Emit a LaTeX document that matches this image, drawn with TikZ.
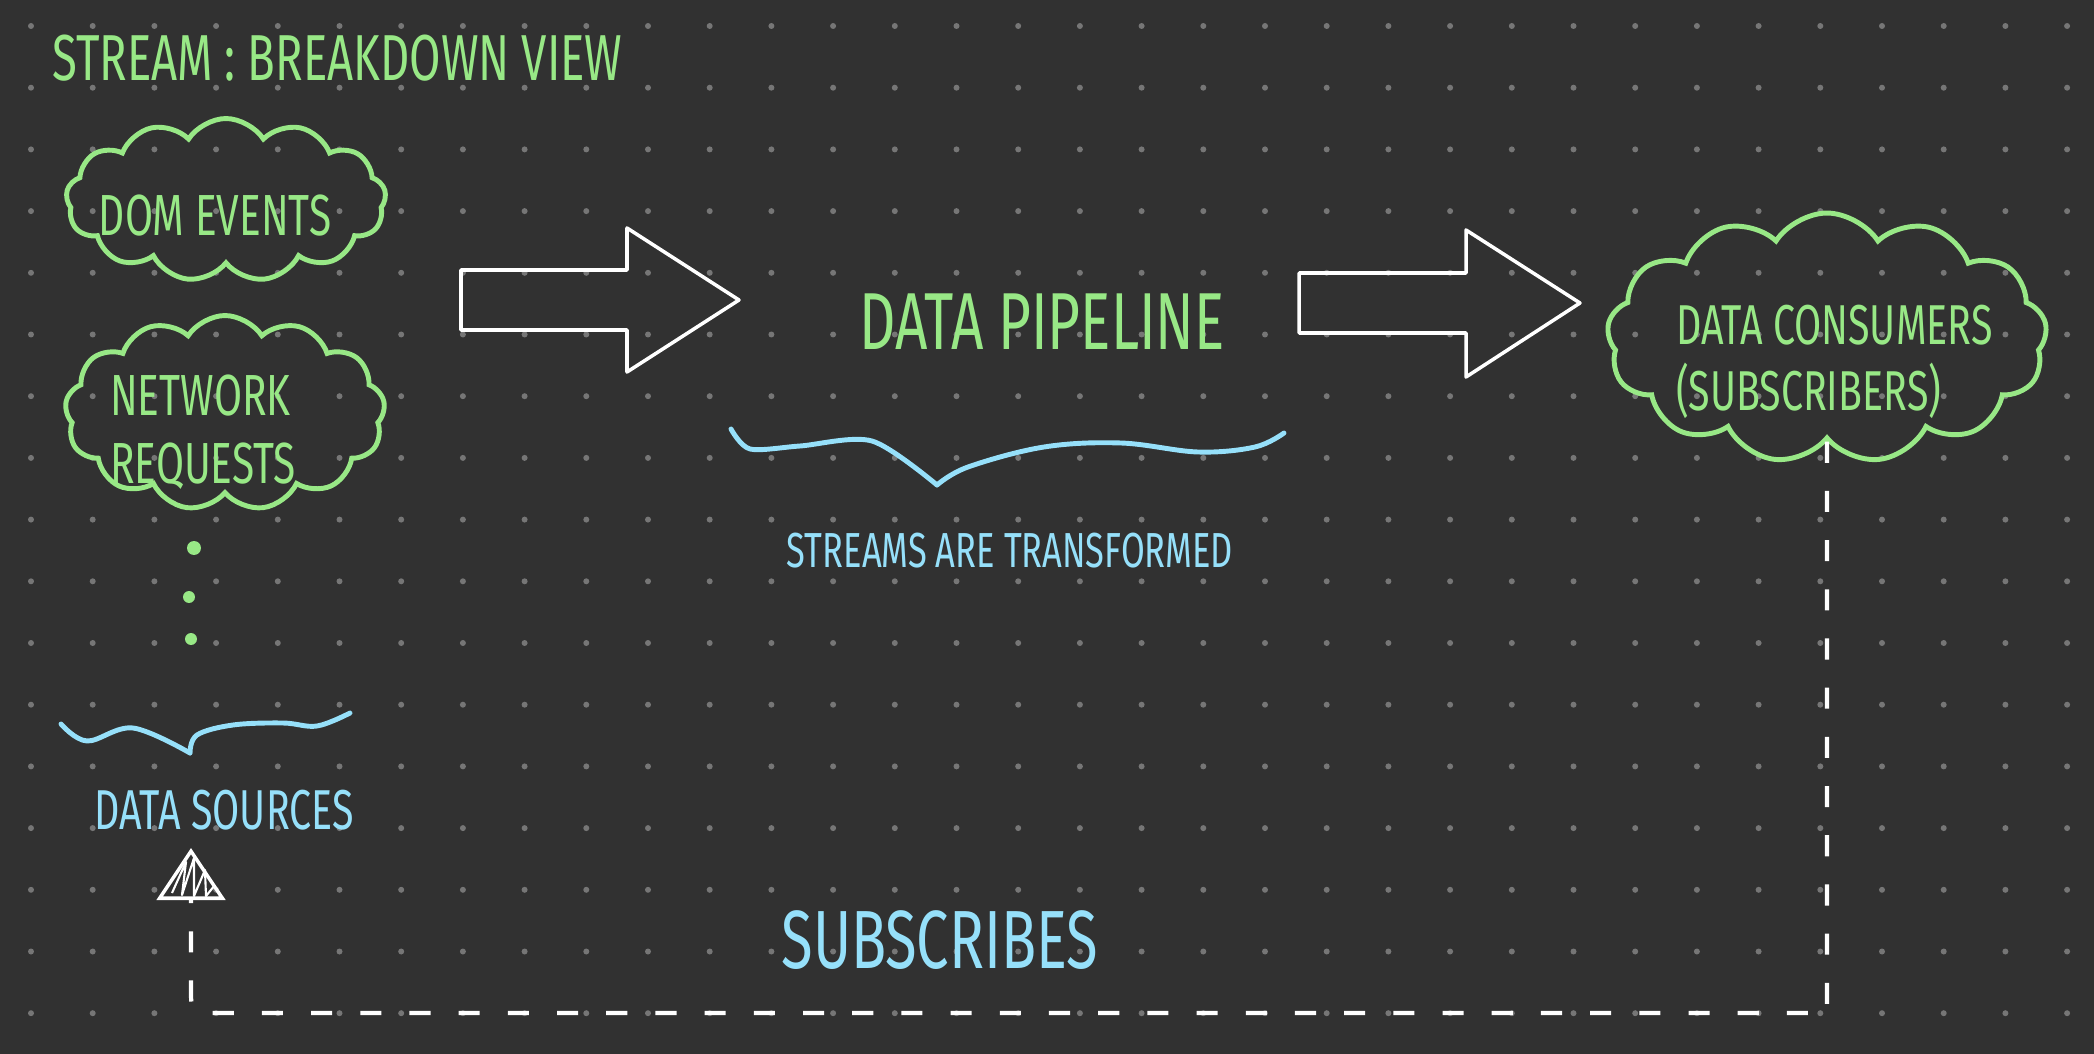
\documentclass[tikz,border=0pt]{standalone}
\usepackage{fontspec}
\newfontfamily\hand[FakeStretch=0.7]{Fira Sans}
\usetikzlibrary{arrows.meta,shapes.symbols}
\definecolor{bgc}{RGB}{49,49,49}
\definecolor{dotc}{RGB}{118,118,118}
\definecolor{chalkgreen}{RGB}{152,232,134}
\definecolor{chalkblue}{RGB}{150,224,250}

\tikzset{
  cloudbox/.style={cloud, cloud puffs=13, cloud puff arc=115, cloud ignores aspect,
    draw=chalkgreen, line width=2.8pt, inner sep=0pt},
  greentxt/.style={text=chalkgreen},
  bluetxt/.style={text=chalkblue},
  brace/.style={chalkblue, line width=2.8pt, line cap=round, line join=round},
  blockarrow/.style={white, line width=2pt, line join=round},
  dashlink/.style={white, line width=2.4pt, dash pattern=on 12pt off 16pt},
}

\begin{document}
\begin{tikzpicture}[x=0.02cm, y=-0.02cm]
  % background and dot grid
  \fill[bgc] (0,0) rectangle (2094,1054);
  \foreach \i in {0,...,33}
    \foreach \j in {0,...,16}
      \fill[dotc] (31+61.7*\i, 26+61.7*\j) circle[radius=0.06cm];

  % title
  \node[greentxt, anchor=west, font=\hand\fontsize{37}{44}\selectfont] (title) at (46,58) {STREAM : BREAKDOWN VIEW};

  % data sources
  \node[cloudbox, minimum width=6.4cm, minimum height=3.26cm] (dom) at (226,200) {};
  \node[greentxt, font=\hand\fontsize{33}{40}\selectfont] (domtxt) at (215,216) {DOM EVENTS};
  \node[cloudbox, minimum width=6.4cm, minimum height=3.9cm] (net) at (225,413) {};
  \node[greentxt, align=left, anchor=west, font=\hand\fontsize{33}{39}\selectfont] (nettxt) at (104,432) {NETWORK\\REQUESTS};
  \fill[chalkgreen] (194,548) circle[radius=0.14cm] (189,597) circle[radius=0.12cm] (191,639) circle[radius=0.12cm];
  \draw[brace] plot[smooth, tension=0.6] coordinates {(61,724) (87,741) (133,728) (190,753)};
  \draw[brace] plot[smooth, tension=0.6] coordinates {(190,753) (197,735) (233,725) (283,723) (317,726) (350,713)};
  \node[bluetxt, font=\hand\fontsize{32}{38}\selectfont] (src) at (224,810) {DATA SOURCES};

  % pipeline
  \coordinate (a1) at (461,300);
  \draw[blockarrow] (a1) ++(0,-30) -- ++(166,0) -- ++(0,-42) -- ++(112,72) -- ++(-112,72) -- ++(0,-42) -- ++(-166,0) -- cycle;
  \node[greentxt, font=\hand\fontsize{46}{55}\selectfont] (pipe) at (1042,322) {DATA PIPELINE};
  \coordinate (a2) at (1299,303);
  \draw[blockarrow] (a2) ++(0,-30) -- ++(167,0) -- ++(0,-43) -- ++(114,73) -- ++(-114,74) -- ++(0,-44) -- ++(-167,0) -- cycle;
  \draw[brace] plot[smooth, tension=0.5] coordinates {(731,429) (750,449) (800,446) (872,441) (937,485)};
  \draw[brace] plot[smooth, tension=0.6] coordinates {(937,485) (968,467) (1044,447) (1121,443) (1198,452) (1255,447) (1284,433)};
  \node[bluetxt, font=\hand\fontsize{28}{34}\selectfont] (transf) at (1010,551) {STREAMS ARE TRANSFORMED};

  % consumers
  \node[cloudbox, minimum width=8.8cm, minimum height=5cm] (cons) at (1827,338) {};
  \node[greentxt, align=left, anchor=west, font=\hand\fontsize{32}{37.5}\selectfont] (constxt) at (1670,362) {DATA CONSUMERS\\(SUBSCRIBERS)};

  % subscription loop back to the sources
  \coordinate (srcin) at (191,848);
  \coordinate (loopbl) at (191,1013);
  \draw[dashlink, -{Triangle[open, length=29.6pt, width=39pt, line width=2pt]}] (cons.south) |- ([xshift=0.5cm]loopbl) .. controls (loopbl) .. ([yshift=0.5cm]loopbl) -- (srcin);
  \draw[white, line width=1.2pt, line join=round] (172,893) -- (186,862) -- (182,895) -- (194,858) -- (194,896) -- (205,870) -- (206,896) -- (215,885);
  \node[bluetxt, font=\hand\fontsize{47}{56}\selectfont] (subs) at (940,940) {SUBSCRIBES};
\end{tikzpicture}
\end{document}
